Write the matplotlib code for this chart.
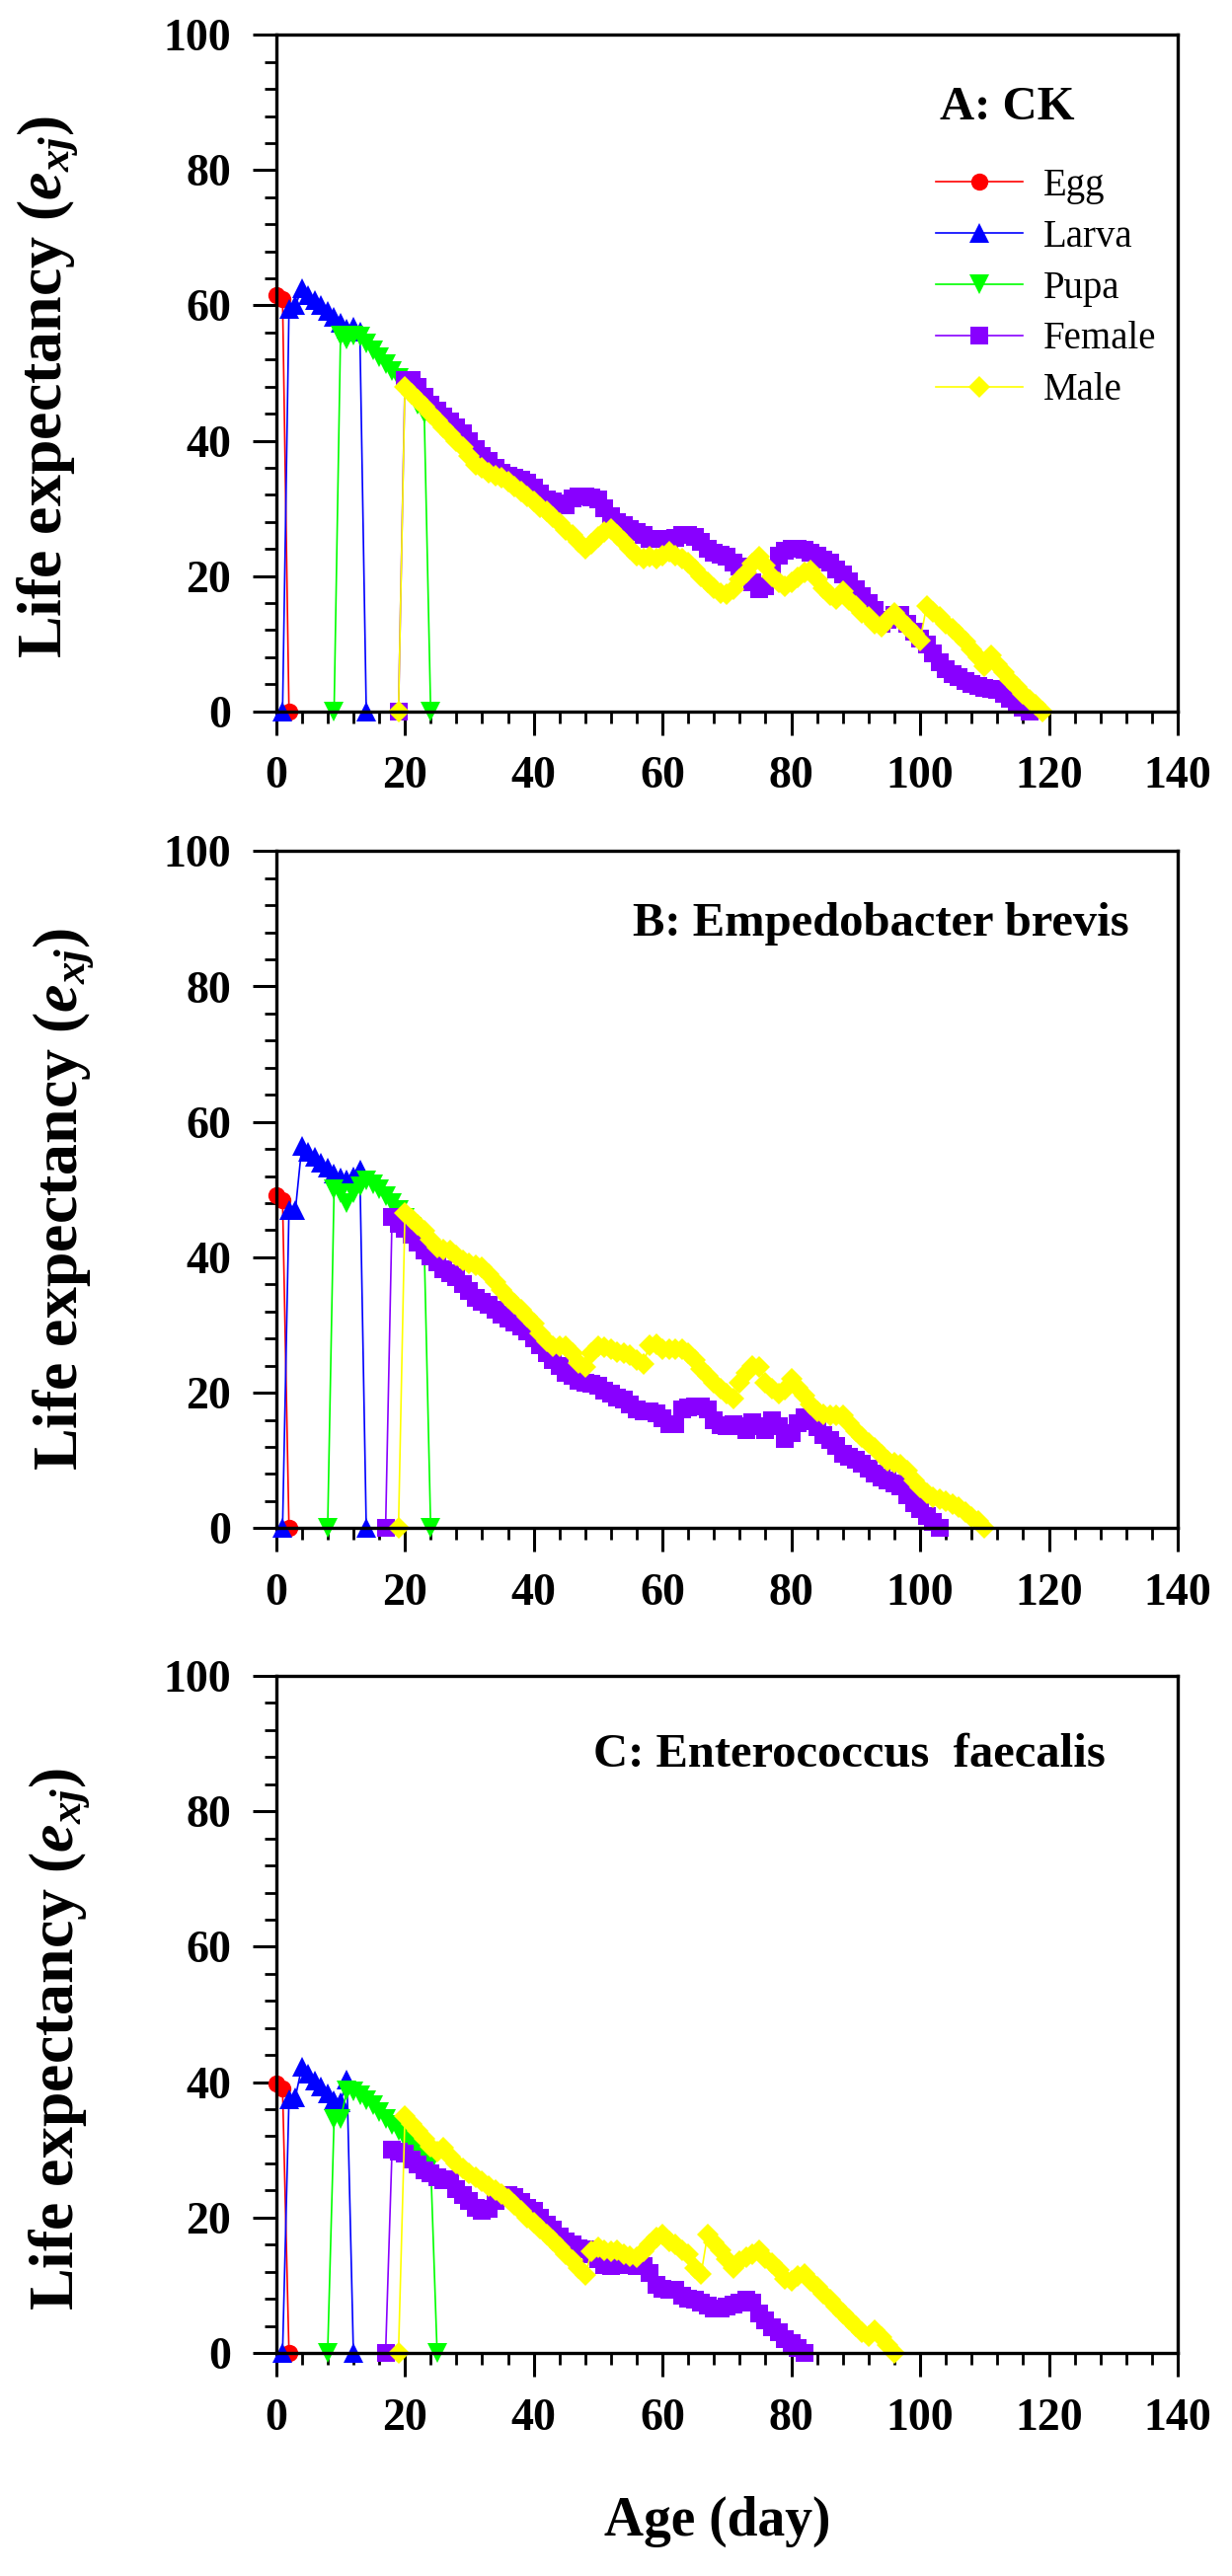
import numpy as np
import matplotlib
matplotlib.use("Agg")
import matplotlib.pyplot as plt
from matplotlib.ticker import MultipleLocator

plt.rcParams['font.family'] = ['Liberation Serif', 'DejaVu Serif']
plt.rcParams['mathtext.fontset'] = 'custom'
plt.rcParams['mathtext.it'] = 'Liberation Serif:italic:bold'
plt.rcParams['mathtext.rm'] = 'Liberation Serif:bold'
plt.rcParams['mathtext.bf'] = 'Liberation Serif:bold'

# ---------------- data ----------------
stage_names = ['Egg', 'Larva', 'Pupa', 'Female', 'Male']
panel_titles = ['A: CK', 'B: Empedobacter brevis', 'C: Enterococcus  faecalis']
x_ticks = [0, 20, 40, 60, 80, 100, 120, 140]
y_ticks = [0, 20, 40, 60, 80, 100]

# Panel A: CK  (first day of each series, then daily values)
ck_egg_start = 0
ck_egg = [61.6, 61.0, 0]
ck_larva_start = 1
ck_larva = [0, 59.5, 60.0, 62.5, 61.6, 60.8, 60.0, 59.2, 58.3, 57.4, 56.6, 56.9, 56.2, 0]
ck_pupa_start = 9
ck_pupa = [0, 55.5, 55.0, 55.6, 55.4, 54.4, 53.4, 52.4, 51.3, 50.3, 49.3, 48.1, 46.8, 45.4, 44.0, 0]
ck_female_start = 19
ck_female = [0,
             49.0, 49.0, 48.0, 46.5, 45.4, 44.5, 43.6, 42.8, 42.0, 41.1,
             40.0, 38.8, 37.8, 37.0, 36.0, 35.2, 34.8, 34.5, 34.2, 33.8,
             33.0, 32.2, 31.3, 31.0, 30.8, 30.5, 31.5, 31.8, 31.8, 31.6,
             31.3, 30.0, 28.8, 27.9, 27.5, 27.0, 26.5, 26.0, 25.5, 25.5,
             25.5, 25.2, 25.6, 26.0, 26.0, 25.8, 25.0, 24.0, 23.5, 23.1,
             22.8, 22.0, 21.4, 20.5, 19.0, 18.0, 18.5, 20.5, 23.0, 23.8,
             24.0, 24.0, 23.9, 23.5, 23.0, 22.4, 22.0, 21.0, 20.3, 19.2,
             18.0, 17.0, 16.0, 15.0, 13.0, 13.5, 14.3, 14.3, 13.0, 11.8,
             10.8, 9.9, 8.5, 7.3, 6.2, 5.5, 5.0, 4.5, 4.1, 3.8,
             3.5, 3.3, 3.1, 2.6, 1.8, 1.2, 0.5, 0]
ck_male_start = 19
ck_male = [0,
           48.0, 47.0, 46.0, 45.0, 44.0, 43.0, 42.0, 41.0, 40.0, 39.0,
           37.8, 36.5, 36.0, 35.3, 34.8, 34.6, 34.0, 33.2, 32.5, 31.7,
           31.0, 30.2, 29.5, 28.7, 27.8, 26.8, 26.0, 25.0, 24.0, 24.8,
           25.8, 26.5, 27.0, 26.0, 25.0, 24.0, 23.0, 22.5, 22.8, 22.5,
           23.0, 23.6, 23.0, 22.5, 22.0, 21.0, 20.0, 19.1, 18.2, 17.5,
           17.3, 18.0, 19.5, 20.5, 21.8, 22.8, 21.5, 20.0, 19.0, 18.5,
           19.0, 19.8, 20.5, 20.8, 19.5, 18.2, 17.2, 16.6, 17.8, 16.5,
           15.5, 14.6, 14.0, 13.0, 12.5, 13.5, 14.5, 13.5, 12.5, 11.5,
           10.5, 15.5, 14.7, 13.9, 13.0, 12.2, 11.3, 10.3, 9.2, 7.9,
           6.6, 8.2, 7.0, 5.8, 4.6, 3.6, 2.6, 1.7, 0.9, 0]

# Panel B: Empedobacter brevis
eb_egg_start = 0
eb_egg = [49.2, 48.5, 0]
eb_larva_start = 1
eb_larva = [0, 47.0, 47.0, 56.5, 55.6, 54.8, 54.0, 53.2, 52.4, 51.8, 51.5, 52.0, 53.0, 0]
eb_pupa_start = 8
eb_pupa = [0, 50.0, 49.5, 48.0, 49.5, 50.5, 51.3, 50.8, 50.0, 49.0, 48.0, 47.0, 45.8, 44.5, 43.0, 41.5, 0]
eb_female_start = 17
eb_female = [0, 46.0, 45.0,
             44.2, 43.3, 42.2, 41.0, 40.2, 39.2, 38.3, 37.7, 37.0, 36.0,
             35.0, 34.0, 33.4, 33.0, 32.2, 31.5, 31.0, 30.3, 29.8, 29.0,
             28.0, 27.0, 25.8, 24.8, 24.0, 23.0, 22.5, 21.7, 21.5, 21.3,
             21.0, 20.3, 19.8, 19.3, 19.0, 18.3, 17.5, 17.3, 17.3, 17.0,
             16.2, 15.4, 15.4, 17.5, 17.8, 18.0, 18.0, 17.5, 16.0, 15.2,
             15.0, 15.4, 15.0, 14.5, 15.6, 15.0, 14.5, 16.0, 15.0, 13.2,
             14.0, 15.5, 16.4, 15.8, 14.9, 13.8, 13.0, 12.2, 11.0, 10.5,
             10.1, 9.5, 8.8, 8.1, 7.5, 7.1, 6.6, 6.2, 4.8, 3.7,
             2.8, 1.8, 0.9, 0]
eb_male_start = 19
eb_male = [0,
           46.6, 45.6, 44.8, 43.9, 42.6, 41.5, 41.2, 41.0, 40.3, 39.6,
           39.1, 38.8, 38.6, 37.5, 36.3, 35.2, 34.0, 33.2, 32.2, 31.2,
           30.2, 28.8, 27.6, 26.9, 26.9, 26.9, 25.8, 24.4, 23.8, 25.8,
           26.9, 26.7, 26.4, 26.0, 25.8, 25.5, 24.8, 24.3, 27.0, 27.2,
           26.4, 26.4, 26.4, 26.4, 25.8, 24.8, 23.5, 22.5, 21.5, 20.6,
           19.8, 19.1, 21.5, 23.0, 24.0, 23.8, 21.5, 20.6, 19.8, 20.5,
           22.1, 20.8, 19.6, 18.3, 17.2, 16.8, 16.7, 16.7, 16.7, 15.5,
           14.3, 13.4, 12.6, 11.9, 10.8, 9.9, 9.6, 9.4, 8.5, 7.0,
           6.0, 5.1, 4.6, 4.2, 4.0, 3.6, 3.1, 2.4, 1.7, 1.0,
           0]

# Panel C: Enterococcus faecalis
ef_egg_start = 0
ef_egg = [39.8, 39.0, 0]
ef_larva_start = 1
ef_larva = [0, 37.5, 37.8, 42.3, 41.2, 40.3, 39.3, 38.3, 37.3, 37.0, 40.4, 0]
ef_pupa_start = 8
ef_pupa = [0, 34.5, 34.5, 38.8, 38.6, 38.1, 37.3, 36.6, 35.6, 34.6, 33.7, 32.8, 31.8, 30.8, 29.8, 28.9, 28.0, 0]
ef_female_start = 17
ef_female = [0, 30.0, 29.8,
             29.4, 28.6, 27.8, 27.0, 26.5, 26.0, 25.5, 25.6, 24.2, 23.3,
             22.5, 21.5, 21.0, 21.3, 22.5, 23.2, 23.3, 23.0, 22.3, 21.5,
             21.0, 20.0, 19.0, 18.2, 17.2, 16.5, 16.0, 15.5, 15.3, 14.6,
             13.8, 13.0, 12.8, 13.0, 13.0, 13.0, 12.8, 12.8, 11.8, 10.0,
             9.5, 9.4, 9.3, 8.5, 8.0, 7.8, 7.5, 7.0, 6.6, 6.5,
             6.8, 7.2, 7.5, 7.8, 7.5, 5.8, 4.8, 3.8, 3.0, 2.1,
             1.4, 0.7, 0]
ef_male_start = 19
ef_male = [0,
           35.0, 33.8, 32.8, 31.6, 30.5, 29.7, 30.3, 29.0, 28.0, 27.3,
           26.6, 25.9, 25.3, 24.6, 24.0, 23.4, 22.7, 21.8, 21.0, 20.0,
           19.2, 18.4, 17.5, 16.6, 15.6, 14.6, 13.7, 12.6, 11.5, 15.0,
           15.6, 15.1, 15.0, 15.1, 14.6, 14.3, 14.1, 15.0, 16.1, 17.0,
           17.5, 16.5, 16.1, 15.2, 14.6, 12.5, 11.7, 17.5, 16.3, 15.1,
           13.8, 12.5, 13.5, 14.1, 14.6, 15.1, 14.0, 13.2, 12.2, 11.0,
           10.7, 11.4, 11.7, 10.7, 9.8, 8.7, 7.8, 6.9, 5.9, 4.9,
           4.0, 3.0, 2.5, 3.4, 2.3, 1.2, 0]

panels = [
    [(ck_egg_start, ck_egg), (ck_larva_start, ck_larva), (ck_pupa_start, ck_pupa),
     (ck_female_start, ck_female), (ck_male_start, ck_male)],
    [(eb_egg_start, eb_egg), (eb_larva_start, eb_larva), (eb_pupa_start, eb_pupa),
     (eb_female_start, eb_female), (eb_male_start, eb_male)],
    [(ef_egg_start, ef_egg), (ef_larva_start, ef_larva), (ef_pupa_start, ef_pupa),
     (ef_female_start, ef_female), (ef_male_start, ef_male)],
]

# ---------------- style ----------------
stage_colors = ['#FF0000', '#0000FF', '#00FF00', '#8800FF', '#FFFF00']
stage_markers = ['o', '^', 'v', 's', 'D']
stage_msize = [12.5, 14.5, 14.5, 12.5, 11.5]

W, H = 1248, 2610
fig = plt.figure(figsize=(W / 100, H / 100), dpi=100)
fig.patch.set_facecolor('white')

ax_left, ax_right = 279.7, 1193.0
tops = [35.4, 862.3, 1698.0]
bottoms = [720.6, 1548.3, 2384.0]
title_pos = [(952, 109), (641, 936), (601, 1778)]
ylabel_pos = [(48, 392), (64, 1215), (60, 2066)]

for i in range(3):
    top, bot = tops[i], bottoms[i]
    ax = fig.add_axes([ax_left / W, 1 - bot / H, (ax_right - ax_left) / W, (bot - top) / H])
    for j, (start, vals) in enumerate(panels[i]):
        days = np.arange(start, start + len(vals))
        ax.plot(days, vals, color=stage_colors[j], marker=stage_markers[j],
                ms=stage_msize[j], mew=0, lw=1.2, clip_on=False, label=stage_names[j])
    ax.set_xlim(0, 140)
    ax.set_ylim(0, 100)
    ax.set_xticks(x_ticks)
    ax.set_yticks(y_ticks)
    ax.xaxis.set_minor_locator(MultipleLocator(4))
    ax.yaxis.set_minor_locator(MultipleLocator(4))
    ax.tick_params(which='major', direction='out', length=17, width=2.2,
                   labelsize=33, pad=16, top=False, right=False)
    ax.tick_params(which='minor', direction='out', length=8.5, width=2.0,
                   top=False, right=False)
    for lab in ax.get_xticklabels() + ax.get_yticklabels():
        lab.set_fontweight('bold')
    for sp in ax.spines.values():
        sp.set_linewidth(2.4)
    tx, ty = title_pos[i]
    fig.text(tx / W, 1 - ty / H, panel_titles[i], fontsize=35, fontweight='bold',
             ha='left', va='center')
    lx, ly = ylabel_pos[i]
    fig.text(lx / W, 1 - ly / H, r'Life expectancy ($e_{xj}$)', fontsize=46,
             fontweight='bold', rotation=90, ha='center', va='center')
    if i == 0:
        ax.legend(loc='upper left', bbox_to_anchor=(948 / W, 1 - 170 / H),
                  bbox_transform=fig.transFigure, frameon=False, fontsize=28,
                  handlelength=2.26, handletextpad=0.54, labelspacing=0.38,
                  borderpad=0, borderaxespad=0, numpoints=1)

fig.text(727 / W, 1 - 2555 / H, 'Age (day)', fontsize=40, fontweight='bold',
         ha='center', va='center')

fig.savefig('out.png', dpi=100, facecolor='white')
